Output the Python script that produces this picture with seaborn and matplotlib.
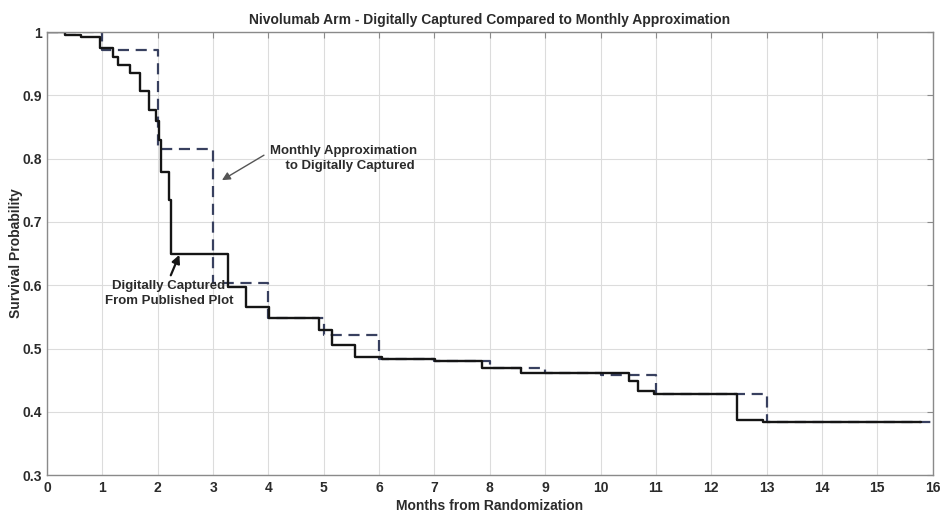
import pandas as pd
import matplotlib
matplotlib.use("Agg")
import matplotlib.pyplot as plt
import seaborn as sns

# Digitally captured KM curve (step-post: time of step, survival after step)
captured_months = [0, 0.32, 0.62, 0.95, 1.19, 1.28, 1.49, 1.67, 1.85, 1.97, 2.03, 2.06,
                   2.21, 2.24, 3.26, 3.59, 4.01, 4.91, 5.15, 5.57, 6.05, 7.01, 7.85,
                   8.57, 10.52, 10.67, 10.97, 12.46, 12.94, 15.79]
captured_surv = [1.0, 0.996, 0.992, 0.974, 0.961, 0.948, 0.935, 0.907, 0.877, 0.86, 0.83, 0.779,
                 0.735, 0.650, 0.597, 0.566, 0.548, 0.529, 0.506, 0.487, 0.484, 0.481, 0.469,
                 0.462, 0.448, 0.433, 0.428, 0.387, 0.384, 0.384]

# Monthly approximation
monthly_months = [0, 1, 2, 3, 4, 5, 6, 7, 8, 9, 10, 11, 12, 13, 16]
monthly_surv = [1.0, 0.972, 0.815, 0.604, 0.548, 0.521, 0.484, 0.481, 0.469, 0.462,
                0.458, 0.428, 0.428, 0.384, 0.384]

x_ticks = list(range(0, 17))
y_ticks = [0.3, 0.4, 0.5, 0.6, 0.7, 0.8, 0.9, 1.0]
y_labels = ["0.3", "0.4", "0.5", "0.6", "0.7", "0.8", "0.9", "1"]

sns.set_style("whitegrid")
plt.rcParams["font.family"] = ["Liberation Sans", "DejaVu Sans"]
text_col = "#2b2b2b"

fig = plt.figure(figsize=(9.42, 5.12), dpi=100)
ax = fig.add_axes([0.050, 0.072, 0.940, 0.8655])

captured = pd.DataFrame({"month": captured_months, "surv": captured_surv})
monthly = pd.DataFrame({"month": monthly_months, "surv": monthly_surv})

sns.lineplot(data=monthly, x="month", y="surv", ax=ax, drawstyle="steps-post",
             estimator=None, color="#38405f", linewidth=1.6, linestyle=(0, (5, 3)))
sns.lineplot(data=captured, x="month", y="surv", ax=ax, drawstyle="steps-post",
             estimator=None, color="#151515", linewidth=1.7)

ax.set_xlim(0, 16)
ax.set_ylim(0.3, 1.0)
ax.set_xticks(x_ticks)
ax.set_yticks(y_ticks)
ax.set_yticklabels(y_labels)
ax.grid(True, color="#dcdcdc", linewidth=0.8)
for s in ax.spines.values():
    s.set_color("#8a8a8a")
    s.set_linewidth(1.0)
ax.tick_params(direction="in", length=4, color="#8a8a8a", top=True, right=True,
               labelsize=10, labelcolor=text_col, pad=4)
for lab in ax.get_xticklabels() + ax.get_yticklabels():
    lab.set_fontweight("bold")

ax.set_title("Nivolumab Arm - Digitally Captured Compared to Monthly Approximation",
             fontsize=10, fontweight="bold", color=text_col, pad=6)
ax.set_xlabel("Months from Randomization", fontsize=10, fontweight="bold",
              color=text_col, labelpad=3)
ax.set_ylabel("Survival Probability", fontsize=10, fontweight="bold", color=text_col)
ax.yaxis.set_label_coords(-0.027, 0.5)

ax.annotate("Monthly Approximation\n    to Digitally Captured", xy=(3.16, 0.766),
            xytext=(5.35, 0.80), ha="center", va="center", fontsize=9.5,
            fontweight="bold", color=text_col, linespacing=1.35,
            arrowprops=dict(arrowstyle="-|>", color="#555555", lw=1.0,
                            shrinkA=2, shrinkB=0, mutation_scale=12,
                            relpos=(0.0, 0.75)))
ax.annotate("Digitally Captured\nFrom Published Plot", xy=(2.39, 0.648),
            xytext=(2.2, 0.587), ha="center", va="center", fontsize=9.5,
            fontweight="bold", color=text_col, linespacing=1.35,
            arrowprops=dict(arrowstyle="-|>", color="#151515", lw=1.6,
                            shrinkA=1, shrinkB=0, mutation_scale=12,
                            relpos=(0.5, 1.0)))

fig.savefig("out.png", dpi=100, facecolor="white")
